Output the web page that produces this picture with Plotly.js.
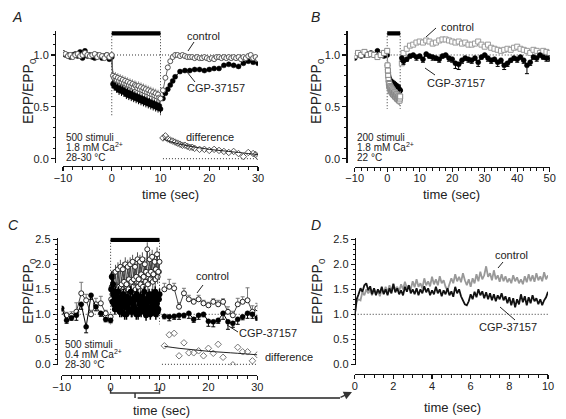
<!DOCTYPE html>
<html><head><meta charset="utf-8">
<script src="https://cdn.plot.ly/plotly-3.0.1.min.js"></script>
<style>html,body{margin:0;padding:0;background:#fff}#chart{width:566px;height:419px}</style>
</head><body><div id="chart"></div>
<script>
// ---------------- DATA ----------------
// Panel A (500 stimuli, 1.8 mM Ca, 28-30 C)
const stimA = [0, 10];
const tA_pre = [-10,-9.5,-9,-8.5,-8,-7.5,-7,-6.5,-6,-5.5,-5,-4.5,-4,-3.5,-3,-2.5,-2,-1.5,-1,-0.5,0];
const ctrlA_pre = [1.02,1.01,0.99,1.00,0.98,1.00,1.01,0.99,1.00,1.02,1.00,0.99,1.00,1.01,0.98,1.00,0.99,0.97,1.00,0.98,1.00];
const cgpA_pre = [1.02,1.00,1.00,0.98,1.00,1.01,0.99,1.03,0.97,1.04,0.99,1.00,0.98,0.97,1.00,0.99,0.97,0.99,1.00,0.96,0.98];
const tStim10 = [0.25,0.5,0.75,1,1.25,1.5,1.75,2,2.25,2.5,2.75,3,3.25,3.5,3.75,4,4.25,4.5,4.75,5,5.25,5.5,5.75,6,6.25,6.5,6.75,7,7.25,7.5,7.75,8,8.25,8.5,8.75,9,9.25,9.5,9.75,10];
const ctrlA_stim = [0.80,0.78,0.79,0.76,0.78,0.75,0.77,0.74,0.76,0.73,0.75,0.72,0.74,0.71,0.73,0.70,0.72,0.69,0.71,0.70,0.68,0.70,0.67,0.69,0.66,0.68,0.65,0.67,0.64,0.66,0.63,0.65,0.62,0.64,0.61,0.63,0.60,0.62,0.59,0.58];
const cgpA_stim = [0.72,0.70,0.71,0.68,0.69,0.66,0.68,0.65,0.67,0.64,0.65,0.62,0.64,0.61,0.63,0.60,0.62,0.59,0.61,0.58,0.60,0.57,0.59,0.56,0.58,0.55,0.57,0.54,0.56,0.53,0.55,0.52,0.54,0.51,0.53,0.50,0.52,0.49,0.51,0.48];
const errA_stim = 0.045;
const tA_ctrlPost = [10.5,11,11.5,12,12.5,13,13.5,14,14.5,15,15.5,16,16.5,17,17.5,18,18.5,19,19.5,20,20.5,21,21.5,22,22.5,23,23.5,24,24.5,25,25.5,26,26.5,27,27.5,28,28.5,29,29.5,30];
const ctrlA_post = [0.66,0.78,0.88,0.94,0.98,1.00,1.00,0.99,1.00,0.99,0.98,0.98,0.98,0.97,0.98,0.97,0.97,0.98,0.97,0.96,0.97,0.96,0.98,0.98,0.97,0.98,0.97,0.98,0.97,0.98,0.97,0.98,0.96,0.98,0.97,0.99,1.00,0.97,0.98,0.96];
const tA_cgpPost = [10.5,11,11.5,12,12.5,13,14,15,16,17,18,19,20,21,22,23,24,25,26,27,28,29,30];
const cgpA_post = [0.58,0.63,0.67,0.71,0.75,0.79,0.84,0.85,0.85,0.86,0.86,0.85,0.86,0.87,0.87,0.90,0.91,0.90,0.89,0.92,0.94,0.93,0.92];
const tA_diff = [10.5,11,11.5,12,12.5,13,13.5,14,14.5,15,15.5,16,16.5,17,18,19,20,21,22,23,24,25,26,27,28,29,29.5,30];
const diffA = [0.20,0.22,0.19,0.18,0.17,0.16,0.15,0.14,0.13,0.13,0.12,0.11,0.11,0.10,0.09,0.09,0.08,0.09,0.08,0.07,0.06,0.07,0.05,0.02,0.06,0.05,0.04,0.02];
const tA_fit = [10.5,12,14,16,18,20,22,24,26,28,30];
const fitA = [0.19,0.165,0.14,0.12,0.105,0.09,0.08,0.07,0.06,0.05,0.04];

// Panel B (200 stimuli, 1.8 mM Ca, 22 C)
const stimB = [0, 4];
const tB_pre = [-10,-9,-8,-7,-6,-5,-4,-3,-2,-1,0];
const ctrlB_pre = [0.99,1.02,1.00,1.03,1.00,1.01,1.00,0.98,1.00,1.02,1.04];
const cgpB_pre = [0.97,1.00,0.99,1.00,1.01,1.02,1.00,1.04,1.00,0.99,1.00];
const tB_stim = [0.1,0.2,0.3,0.4,0.5,0.6,0.7,0.8,0.9,1,1.1,1.2,1.3,1.4,1.5,1.6,1.7,1.8,1.9,2,2.1,2.2,2.3,2.4,2.5,2.6,2.7,2.8,2.9,3,3.1,3.2,3.3,3.4,3.5,3.6,3.7,3.8,3.9,4];
const ctrlB_stim = [0.90,0.85,0.80,0.76,0.73,0.70,0.72,0.68,0.70,0.66,0.69,0.65,0.68,0.64,0.67,0.63,0.66,0.62,0.65,0.62,0.64,0.61,0.64,0.60,0.63,0.60,0.62,0.59,0.62,0.58,0.61,0.58,0.60,0.57,0.60,0.57,0.59,0.56,0.58,0.60];
const cgpB_stim = [0.90,0.86,0.83,0.80,0.78,0.76,0.77,0.74,0.75,0.73,0.74,0.72,0.73,0.71,0.72,0.70,0.72,0.70,0.71,0.69,0.71,0.69,0.70,0.68,0.70,0.68,0.69,0.67,0.69,0.67,0.68,0.66,0.68,0.66,0.67,0.65,0.67,0.65,0.66,0.66];
const errB_stim = 0.05;
const tB_post = [4.5,5,6,7,8,9,10,11,12,13,14,15,16,17,18,19,20,21,22,23,24,25,26,27,28,29,30,31,32,33,34,35,36,37,38,39,40,41,42,43,44,45,46,47,48,49,50];
const ctrlB_post = [0.92,1.02,1.06,1.09,1.10,1.12,1.13,1.12,1.14,1.13,1.11,1.12,1.14,1.15,1.15,1.14,1.13,1.12,1.13,1.11,1.12,1.10,1.10,1.11,1.13,1.10,1.08,1.10,1.07,1.06,1.05,1.04,1.05,1.06,1.05,1.07,1.08,1.06,1.05,1.04,1.02,1.05,1.04,1.02,1.04,1.03,1.02];
const cgpB_post = [0.97,0.94,0.96,0.99,1.00,0.98,0.99,0.96,1.01,0.99,0.98,0.97,0.96,0.99,1.00,0.97,0.96,0.92,0.91,0.95,0.97,0.96,0.95,0.97,0.93,0.98,1.00,0.97,0.95,0.96,0.93,0.95,0.90,0.92,0.95,0.97,0.96,0.98,0.95,0.90,0.93,0.98,0.97,1.00,0.98,0.97,0.97];
const cgpB_postErr = [0.03,0.03,0.02,0.02,0.02,0.03,0.02,0.03,0.02,0.02,0.03,0.02,0.03,0.02,0.02,0.03,0.03,0.05,0.05,0.03,0.02,0.03,0.03,0.02,0.04,0.02,0.02,0.03,0.03,0.02,0.04,0.03,0.04,0.03,0.02,0.02,0.03,0.02,0.03,0.08,0.03,0.02,0.03,0.02,0.02,0.03,0.03];

// Panel C (500 stimuli, 0.4 mM Ca, 28-30 C)
const stimC = [0, 10];
const tC_pre = [-10,-9,-8,-7,-6,-5,-4,-3,-2,-1,0];
const ctrlC_pre = [1.05,0.98,0.97,1.05,1.42,1.28,1.00,1.20,1.22,1.02,0.95];
const ctrlC_preErr = [0.06,0.06,0.08,0.18,0.22,0.12,0.08,0.12,0.14,0.06,0.05];
const cgpC_pre = [1.12,0.88,0.93,0.98,1.20,0.75,1.38,1.15,1.02,0.90,0.88];
const cgpC_preErr = [0.05,0.06,0.05,0.10,0.10,0.12,0.08,0.08,0.06,0.05,0.05];
const tStimC2 = [0.125,0.375,0.625,0.875,1.125,1.375,1.625,1.875,2.125,2.375,2.625,2.875,3.125,3.375,3.625,3.875,4.125,4.375,4.625,4.875,5.125,5.375,5.625,5.875,6.125,6.375,6.625,6.875,7.125,7.375,7.625,7.875,8.125,8.375,8.625,8.875,9.125,9.375,9.625,9.875];
const ctrlC_stim = [1.55,1.75,1.45,1.85,1.50,1.90,1.55,1.95,1.60,1.90,1.65,2.00,1.60,1.95,1.70,2.00,1.65,2.05,1.70,1.95,1.75,2.10,1.70,2.05,1.80,2.10,1.75,2.00,1.85,2.30,1.80,2.10,1.85,2.15,1.80,2.05,1.90,2.20,1.85,2.05];
const ctrlC_stim2 = [1.30,1.40,1.25,1.45,1.30,1.50,1.35,1.55,1.40,1.50,1.45,1.60,1.40,1.55,1.50,1.65,1.45,1.60,1.55,1.70,1.50,1.65,1.55,1.75,1.60,1.70,1.55,1.80,1.65,1.75,1.60,1.80,1.70,1.85,1.65,1.80,1.70,1.90,1.75,1.85];
const cgpC_stim = [1.75,1.60,1.20,1.45,1.15,1.35,1.10,1.30,1.05,1.35,1.15,1.30,1.00,1.25,1.10,1.30,1.05,1.30,1.15,1.35,1.00,1.30,1.10,1.30,1.05,1.35,1.10,1.30,0.98,1.25,1.10,1.35,1.05,1.40,1.15,1.30,1.00,1.35,1.10,1.40];
const cgpC_stim2 = [1.50,1.25,1.40,1.10,1.30,1.20,1.45,1.05,1.25,1.15,1.40,1.00,1.20,1.35,1.10,1.25,1.45,1.05,1.20,1.30,1.10,1.40,1.00,1.25,1.35,1.15,1.20,1.45,1.05,1.30,1.15,1.40,1.00,1.25,1.35,1.10,1.45,1.20,1.05,1.30];
const errC_stimCtrl = 0.14;
const errC_stimCgp = 0.11;
const tC_post = [11,12,13,14,15,16,17,18,19,20,21,22,23,24,25,26,27,28,29,30];
const ctrlC_post = [1.50,1.55,1.52,1.15,1.42,1.30,1.25,1.30,1.22,1.18,1.25,1.20,1.25,1.05,0.98,1.20,1.25,1.28,1.05,1.12];
const ctrlC_postErr = [0.12,0.15,0.10,0.08,0.10,0.08,0.06,0.08,0.06,0.06,0.06,0.08,0.06,0.10,0.08,0.12,0.10,0.25,0.12,0.10];
const cgpC_post = [0.96,0.95,0.96,0.98,0.98,1.02,0.90,0.98,1.00,0.86,0.85,0.88,1.02,0.85,0.82,0.90,0.95,1.02,1.00,0.93];
const cgpC_postErr = [0.05,0.08,0.06,0.08,0.05,0.10,0.06,0.08,0.05,0.10,0.10,0.06,0.12,0.15,0.08,0.10,0.06,0.10,0.08,0.05];
const tC_diff = [11,12,13,14,15,16,17,18,19,20,21,22,23,25,26,27,28,29,30];
const diffC = [0.37,0.59,0.62,0.17,0.43,0.23,0.23,0.27,0.17,0.32,0.22,0.40,0.14,-0.01,0.34,0.25,0.25,0.07,0.19];
const tC_fit = [11,14,17,20,23,26,30];
const fitC = [0.36,0.32,0.29,0.26,0.24,0.22,0.19];

// Panel D (first 10 s of panel C, averaged traces)
const tD = [0,0.1,0.2,0.3,0.4,0.5,0.6,0.7,0.8,0.9,1,1.1,1.2,1.3,1.4,1.5,1.6,1.7,1.8,1.9,2,2.1,2.2,2.3,2.4,2.5,2.6,2.7,2.8,2.9,3,3.1,3.2,3.3,3.4,3.5,3.6,3.7,3.8,3.9,4,4.1,4.2,4.3,4.4,4.5,4.6,4.7,4.8,4.9,5,5.1,5.2,5.3,5.4,5.5,5.6,5.7,5.8,5.9,6,6.1,6.2,6.3,6.4,6.5,6.6,6.7,6.8,6.9,7,7.1,7.2,7.3,7.4,7.5,7.6,7.7,7.8,7.9,8,8.1,8.2,8.3,8.4,8.5,8.6,8.7,8.8,8.9,9,9.1,9.2,9.3,9.4,9.5,9.6,9.7,9.8,9.9,10];
const ctrlD = [1.00,1.25,1.30,1.28,1.45,1.38,1.50,1.42,1.48,1.38,
 1.52,1.40,1.47,1.36,1.50,1.42,1.55,1.44,1.58,1.45,
 1.62,1.48,1.55,1.46,1.60,1.50,1.65,1.52,1.58,1.50,
 1.66,1.54,1.70,1.55,1.62,1.52,1.72,1.58,1.66,1.56,
 1.75,1.60,1.70,1.58,1.76,1.62,1.68,1.55,1.48,1.60,
 1.72,1.62,1.80,1.66,1.75,1.64,1.82,1.68,1.58,1.70,
 1.55,1.72,1.62,1.80,1.66,1.85,1.70,1.78,1.96,1.75,
 1.82,1.68,1.88,1.70,1.78,1.65,1.80,1.66,1.76,1.64,
 1.72,1.62,1.78,1.66,1.74,1.62,1.70,1.60,1.76,1.64,
 1.80,1.66,1.78,1.65,1.82,1.68,1.76,1.66,1.84,1.70,
 1.78];
const cgpD = [0.97,1.30,1.40,1.52,1.45,1.58,1.62,1.48,1.56,1.40,
 1.52,1.38,1.50,1.42,1.55,1.40,1.50,1.38,1.52,1.42,
 1.60,1.44,1.52,1.40,1.48,1.38,1.55,1.45,1.58,1.42,
 1.50,1.40,1.52,1.38,1.50,1.42,1.56,1.44,1.52,1.38,
 1.48,1.40,1.55,1.42,1.50,1.36,1.48,1.40,1.52,1.38,
 1.46,1.35,1.55,1.42,1.50,1.36,1.28,1.20,1.18,1.26,
 1.40,1.30,1.45,1.34,1.50,1.38,1.46,1.32,1.44,1.30,
 1.42,1.28,1.40,1.26,1.38,1.30,1.42,1.28,1.36,1.22,
 1.34,1.18,1.32,1.14,1.30,1.20,1.40,1.24,1.36,1.18,
 1.34,1.22,1.38,1.26,1.32,1.20,1.30,1.18,1.28,1.34,
 1.45];

// ---------------- LAYOUT HELPERS ----------------
const W = 566, H = 419;
const FONT = 'Liberation Sans, Arial, Helvetica, sans-serif';
const PX = v => v / W;
const PY = v => 1 - v / H;
const AX = '#111';

function mkX(l, r, range, posPx, dtick, mdtick) {
  return {domain:[PX(l), PX(r)], range, anchor:'free', position:PY(posPx),
    showline:true, linecolor:AX, linewidth:1.4, ticks:'outside', ticklen:4, tickwidth:1.3, tickcolor:AX,
    ticklabelstandoff:-3,
    dtick, tick0:0, showgrid:false, zeroline:false, fixedrange:true,
    tickfont:{size:11, color:'#222', family:FONT},
    minor:{dtick:mdtick, tick0:0, ticks:'outside', ticklen:3, tickwidth:1, tickcolor:AX, showgrid:false}};
}
function mkY(zeroPx, unitPx, range, posPx) {
  return {domain:[PY(zeroPx - range[0]*unitPx), PY(zeroPx - range[1]*unitPx)], range,
    anchor:'free', position:PX(posPx),
    showline:true, linecolor:AX, linewidth:1.4, ticks:'outside', ticklen:4, tickwidth:1.3, tickcolor:AX,
    dtick:0.5, tick0:0, tickformat:'.1f', showgrid:false, zeroline:false, fixedrange:true,
    tickfont:{size:11, color:'#222', family:FONT},
    minor:{dtick:0.1, tick0:0, ticks:'outside', ticklen:2, tickwidth:1, tickcolor:AX, showgrid:false}};
}

const traces = [];
function add(t) { t.type = 'scatter'; t.hoverinfo = 'skip'; traces.push(t); }
const dotted = {color:'#333', width:1, dash:'1px,2px'};

function refLines(xa, ya, xSpan, stim, top, bottom, diffSpan) {
  add({x:xSpan, y:[1,1], xaxis:xa, yaxis:ya, mode:'lines', line:dotted});
  add({x:[stim[0],stim[0],null,stim[1],stim[1]], y:[top,bottom,null,top,bottom], xaxis:xa, yaxis:ya, mode:'lines', line:dotted});
  if (diffSpan) add({x:diffSpan, y:[0,0], xaxis:xa, yaxis:ya, mode:'lines', line:dotted});
}
function bar(xa, ya, stim, level) {
  add({x:stim, y:[level, level], xaxis:xa, yaxis:ya, mode:'lines', line:{color:'#000', width:4.5}});
}
const mkOpen = (c, sym) => ({symbol:sym||'circle', size:5, color:'#fff', line:{color:c, width:1}});
const mkFill = c => ({symbol:'circle', size:5, color:c, line:{color:c, width:0.5}});
const zeros = a => a.map(() => 0);

// ---- Panel A ----
refLines('x','y',[tA_pre[0], tA_ctrlPost[tA_ctrlPost.length-1]], stimA, 1.21, 0.4, [tA_diff[0], tA_diff[tA_diff.length-1]]);
add({x:tA_pre.concat(tStim10), y:cgpA_pre.concat(cgpA_stim), xaxis:'x', yaxis:'y', mode:'lines+markers',
  line:{color:'#000', width:1}, marker:mkFill('#000'),
  error_y:{type:'data', array:zeros(cgpA_pre).concat(cgpA_stim.map(()=>errA_stim)), color:'#000', thickness:1, width:0}});
add({x:tA_cgpPost, y:cgpA_post, xaxis:'x', yaxis:'y', mode:'lines+markers', line:{color:'#000', width:1}, marker:mkFill('#000')});
add({x:tA_pre.concat(tStim10), y:ctrlA_pre.concat(ctrlA_stim), xaxis:'x', yaxis:'y', mode:'lines+markers',
  line:{color:'#666', width:1}, marker:mkOpen('#555'),
  error_y:{type:'data', array:zeros(ctrlA_pre).concat(ctrlA_stim.map(()=>errA_stim)), color:'#888', thickness:1, width:0}});
add({x:tA_ctrlPost, y:ctrlA_post, xaxis:'x', yaxis:'y', mode:'lines+markers', line:{color:'#666', width:1}, marker:mkOpen('#555')});
add({x:tA_diff, y:diffA, xaxis:'x', yaxis:'y', mode:'markers', marker:{symbol:'diamond-open', size:5, color:'#555', line:{width:1}}});
add({x:tA_fit, y:fitA, xaxis:'x', yaxis:'y', mode:'lines', line:{color:'#222', width:1, shape:'spline'}});
bar('x','y',stimA,1.21);

// ---- Panel B ----
refLines('x2','y2',[tB_pre[0], tB_post[tB_post.length-1]], stimB, 1.21, 0.48, null);
add({x:tB_pre.concat(tB_stim), y:cgpB_pre.concat(cgpB_stim), xaxis:'x2', yaxis:'y2', mode:'lines+markers',
  line:{color:'#000', width:1}, marker:mkFill('#000'),
  error_y:{type:'data', array:zeros(cgpB_pre).concat(cgpB_stim.map(()=>errB_stim)), color:'#000', thickness:1, width:0}});
add({x:tB_pre.concat(tB_stim), y:ctrlB_pre.concat(ctrlB_stim), xaxis:'x2', yaxis:'y2', mode:'lines+markers',
  line:{color:'#999', width:1}, marker:mkOpen('#888','square'),
  error_y:{type:'data', array:zeros(ctrlB_pre).concat(ctrlB_stim.map(()=>errB_stim)), color:'#999', thickness:1, width:0}});
add({x:tB_post, y:ctrlB_post, xaxis:'x2', yaxis:'y2', mode:'lines+markers', line:{color:'#999', width:1}, marker:mkOpen('#999','square')});
add({x:tB_post, y:cgpB_post, xaxis:'x2', yaxis:'y2', mode:'lines+markers', line:{color:'#000', width:1.2}, marker:mkFill('#000'),
  error_y:{type:'data', symmetric:false, array:zeros(cgpB_post), arrayminus:cgpB_postErr, color:'#000', thickness:1, width:2}});
bar('x2','y2',stimB,1.21);

// ---- Panel C ----
refLines('x3','y3',[tC_pre[0], tC_post[tC_post.length-1]], stimC, 2.49, 0.8, [10.5, tC_diff[tC_diff.length-1]]);
add({x:tC_pre, y:ctrlC_pre, xaxis:'x3', yaxis:'y3', mode:'lines+markers', line:{color:'#444', width:1}, marker:mkOpen('#222'),
  error_y:{type:'data', symmetric:false, array:ctrlC_preErr, arrayminus:zeros(ctrlC_preErr), color:'#777', thickness:1, width:2}});
add({x:tStimC2, y:ctrlC_stim2, xaxis:'x3', yaxis:'y3', mode:'markers', marker:mkOpen('#222'),
  error_y:{type:'constant', value:errC_stimCtrl, color:'#555', thickness:1, width:0}});
add({x:tStim10, y:ctrlC_stim, xaxis:'x3', yaxis:'y3', mode:'lines+markers', line:{color:'#444', width:1}, marker:mkOpen('#222'),
  error_y:{type:'constant', value:errC_stimCtrl, color:'#555', thickness:1, width:0}});
add({x:tC_post, y:ctrlC_post, xaxis:'x3', yaxis:'y3', mode:'lines+markers', line:{color:'#444', width:1}, marker:mkOpen('#222'),
  error_y:{type:'data', symmetric:false, array:ctrlC_postErr, arrayminus:zeros(ctrlC_postErr), color:'#777', thickness:1, width:2}});
add({x:tC_pre, y:cgpC_pre, xaxis:'x3', yaxis:'y3', mode:'lines+markers', line:{color:'#000', width:1}, marker:mkFill('#000'),
  error_y:{type:'data', symmetric:false, array:zeros(cgpC_preErr), arrayminus:cgpC_preErr, color:'#000', thickness:1, width:2}});
add({x:tStimC2, y:cgpC_stim2, xaxis:'x3', yaxis:'y3', mode:'markers', marker:{symbol:'circle', size:6, color:'#000'},
  error_y:{type:'constant', value:errC_stimCgp, color:'#000', thickness:1.5, width:0}});
add({x:tStim10, y:cgpC_stim, xaxis:'x3', yaxis:'y3', mode:'lines+markers', line:{color:'#000', width:1.2}, marker:{symbol:'circle', size:6, color:'#000'},
  error_y:{type:'constant', value:errC_stimCgp, color:'#000', thickness:1.5, width:0}});
add({x:tC_post, y:cgpC_post, xaxis:'x3', yaxis:'y3', mode:'lines+markers', line:{color:'#000', width:1}, marker:mkFill('#000'),
  error_y:{type:'data', symmetric:false, array:zeros(cgpC_postErr), arrayminus:cgpC_postErr, color:'#000', thickness:1, width:2}});
add({x:tC_diff, y:diffC, xaxis:'x3', yaxis:'y3', mode:'markers', marker:{symbol:'diamond-open', size:5, color:'#777', line:{width:1}}});
add({x:tC_fit, y:fitC, xaxis:'x3', yaxis:'y3', mode:'lines', line:{color:'#222', width:1, shape:'spline'}});
bar('x3','y3',stimC,2.49);

// ---- Panel D ----
add({x:[tD[0], tD[tD.length-1]], y:[1,1], xaxis:'x4', yaxis:'y4', mode:'lines', line:dotted});
add({x:tD, y:ctrlD, xaxis:'x4', yaxis:'y4', mode:'lines', line:{color:'#999', width:1.8}});
add({x:tD, y:cgpD, xaxis:'x4', yaxis:'y4', mode:'lines', line:{color:'#111', width:1.8}});

// ---------------- ANNOTATIONS ----------------
const ann = [];
function txt(text, x, y, size, extra) {
  ann.push(Object.assign({text, x:PX(x), y:PY(y), xref:'paper', yref:'paper', showarrow:false,
    xanchor:'center', yanchor:'middle', font:{size, color:'#222', family:FONT}}, extra||{}));
}
// panel letters
txt('<i>A</i>', 17, 17, 14); txt('<i>B</i>', 315, 17, 14);
txt('<i>C</i>', 13, 225, 14); txt('<i>D</i>', 316, 225, 14);
// axis titles
const yT = 'EPP/EPP<sub>0</sub>';
txt(yT, 29, 91, 14, {textangle:-90}); txt(yT, 317, 91, 14, {textangle:-90});
txt(yT, 29, 291, 14, {textangle:-90}); txt(yT, 318, 291, 14, {textangle:-90});
txt('time (sec)', 170, 194, 13); txt('time (sec)', 451, 194, 13);
txt('time (sec)', 161, 410, 13); txt('time (sec)', 452, 407, 13);
// series labels
txt('control', 203, 36, 11); txt('CGP-37157', 216, 88, 11); txt('difference', 210, 137, 11);
txt('control', 457, 27, 11); txt('CGP-37157', 456, 83, 11);
txt('control', 212, 276, 11); txt('CGP-37157', 268, 333, 11); txt('difference', 289, 357, 11);
txt('control', 511, 255, 11); txt('CGP-37157', 508, 327, 11);
// conditions
const L = {xanchor:'left'};
txt('500 stimuli', 64, 137, 10, L); txt('1.8 mM Ca<sup>2+</sup>', 64, 147, 10, L); txt('28-30 °C', 64, 157, 10, L);
txt('200 stimuli', 355, 137, 10, L); txt('1.8 mM Ca<sup>2+</sup>', 355, 147, 10, L); txt('22 °C', 355, 157, 10, L);
txt('500 stimuli', 63, 344, 10, L); txt('0.4 mM Ca<sup>2+</sup>', 63, 354, 10, L); txt('28-30 °C', 63, 364, 10, L);
// arrow toward panel D origin
ann.push({x:PX(352), y:PY(392), xref:'paper', yref:'paper', text:'', showarrow:true,
  ax:-13, ay:6, arrowhead:2, arrowsize:1.1, arrowwidth:1.5, arrowcolor:'#333'});

// ---------------- SHAPES (leaders, bracket) ----------------
const shapes = [];
function seg(x0,y0,x1,y1,w) {
  shapes.push({type:'line', xref:'paper', yref:'paper', x0:PX(x0), y0:PY(y0), x1:PX(x1), y1:PY(y1), line:{color:'#222', width:w||1}});
}
seg(194,42,188,51); seg(195,82,187,72);
seg(436,28,426,37); seg(435,75,425,68);
seg(203,285,197,293); seg(238,332,227,325);
seg(503,262,498,268); seg(515,320,500,307);
// bracket under panel C marking the stimulation period (axis x3 data units)
shapes.push({type:'path', xref:'x3', yref:'paper', line:{color:'#333', width:1.5},
  path:`M ${stimC[0]},${PY(388)} L ${stimC[0]},${PY(393)} L ${stimC[1]},${PY(393)} L ${stimC[1]},${PY(388)} M ${(stimC[0]+stimC[1])/2},${PY(393)} L ${(stimC[0]+stimC[1])/2},${PY(398)}`});
seg(137.7,398,340,398,1.5);

const layout = {
  width:W, height:H, margin:{l:0,r:0,t:0,b:0}, showlegend:false,
  paper_bgcolor:'#fff', plot_bgcolor:'rgba(0,0,0,0)',
  font:{family:FONT, color:'#222'},
  xaxis: mkX(63, 258, [-10,30], 166, 10, 2),
  yaxis: mkY(158.7, 103.7, [-0.04,1.23], 55),
  xaxis2: mkX(354.7, 549.7, [-10,50], 166.7, 10, 2),
  yaxis2: mkY(158.7, 103.7, [-0.04,1.23], 346.3),
  xaxis3: mkX(61.7, 257.3, [-10,30], 375, 10, 2),
  yaxis3: mkY(364.3, 50, [-0.02,2.53], 56.7),
  xaxis4: mkX(354.7, 548, [0,10], 374, 2, 0.5),
  yaxis4: mkY(364.3, 50, [-0.02,2.53], 354.7),
  annotations: ann, shapes
};
Plotly.newPlot('chart', traces, layout, {staticPlot:true, displayModeBar:false});
</script></body></html>
